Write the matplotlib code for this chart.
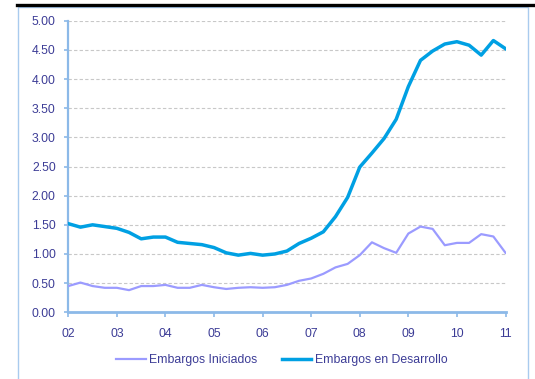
import matplotlib
matplotlib.use("Agg")
import matplotlib.pyplot as plt
from matplotlib.patches import Rectangle
from matplotlib.lines import Line2D

# Series trimestrales 2002T1 - 2011T1
anio_inicio = 2002
embargos_iniciados = [
    0.45, 0.51, 0.45, 0.42,
    0.42, 0.38, 0.45, 0.45,
    0.47, 0.42, 0.42, 0.47,
    0.43, 0.40, 0.42, 0.43,
    0.42, 0.43, 0.47, 0.54,
    0.58, 0.66, 0.77, 0.83,
    0.98, 1.20, 1.10, 1.02,
    1.35, 1.47, 1.43, 1.15,
    1.19, 1.19, 1.34, 1.30,
    1.02,
]
embargos_desarrollo = [
    1.52, 1.46, 1.50, 1.47,
    1.44, 1.37, 1.26, 1.29,
    1.29, 1.20, 1.18, 1.16,
    1.11, 1.02, 0.98, 1.01,
    0.98, 1.00, 1.05, 1.18,
    1.27, 1.38, 1.64, 1.97,
    2.49, 2.73, 2.98, 3.31,
    3.87, 4.32, 4.48, 4.60,
    4.64, 4.58, 4.41, 4.66,
    4.52,
]
etiquetas_x = ["02", "03", "04", "05", "06", "07", "08", "09", "10", "11"]
ticks_y = [0.0, 0.5, 1.0, 1.5, 2.0, 2.5, 3.0, 3.5, 4.0, 4.5, 5.0]

AZUL = "#00A0E3"
LILA = "#9B9BFF"
EJE = "#8CB9E8"
TEXTO = "#3C3C96"

plt.rcParams["font.family"] = ["Liberation Sans", "DejaVu Sans"]

W, H = 535, 379
fig = plt.figure(figsize=(W / 100, H / 100), dpi=100)

# Marco del área del gráfico y línea negra superior
fig.patches.append(Rectangle((18 / W, -0.05), 510 / W, 1.05 - 7 / H,
                             transform=fig.transFigure, fill=False,
                             edgecolor="#A9CBEE", linewidth=1.0))
fig.lines.append(Line2D([17 / W, 1.0], [1 - 4.7 / H, 1 - 4.7 / H],
                        transform=fig.transFigure, color="black", linewidth=2.4))

ax = fig.add_axes([68.3 / W, 1 - 312.3 / H, (505.5 - 68.3) / W, (312.3 - 20.7) / H])

x = [anio_inicio + i / 4 for i in range(len(embargos_iniciados))]
ax.plot(x, embargos_iniciados, color=LILA, linewidth=1.6, label="Embargos Iniciados",
        zorder=3, solid_joinstyle="round")
ax.plot(x, embargos_desarrollo, color=AZUL, linewidth=2.5, label="Embargos en Desarrollo",
        zorder=4, solid_joinstyle="round")

ax.set_xlim(anio_inicio, anio_inicio + len(etiquetas_x) - 1)
ax.set_ylim(0, 5)
ax.set_xticks([anio_inicio + i for i in range(len(etiquetas_x))])
ax.set_xticklabels(etiquetas_x)
ax.set_yticks(ticks_y)
ax.set_yticklabels([f"{v:.2f}" for v in ticks_y])

for v in ticks_y[1:]:
    ax.axhline(v, color="#C8C8C8", linewidth=0.8, linestyle=(0, (3, 2)), zorder=1)

for lado in ("top", "right"):
    ax.spines[lado].set_visible(False)
ax.spines["left"].set_color(EJE)
ax.spines["left"].set_linewidth(1.6)
ax.spines["bottom"].set_color(EJE)
ax.spines["bottom"].set_linewidth(2.0)

ax.tick_params(axis="y", colors=EJE, labelcolor=TEXTO, labelsize=8.8,
               length=3, width=1.2, pad=6)
ax.tick_params(axis="x", colors=EJE, labelcolor=TEXTO, labelsize=8.8,
               length=3.5, width=1.2, pad=8, direction="out")

fig.legend(loc="center", bbox_to_anchor=(282 / W, 1 - 360 / H), ncol=2,
           frameon=False, fontsize=8.8, handlelength=2.4, columnspacing=2.0,
           handletextpad=0.3, labelcolor=TEXTO)

fig.savefig("out.png", dpi=100)
